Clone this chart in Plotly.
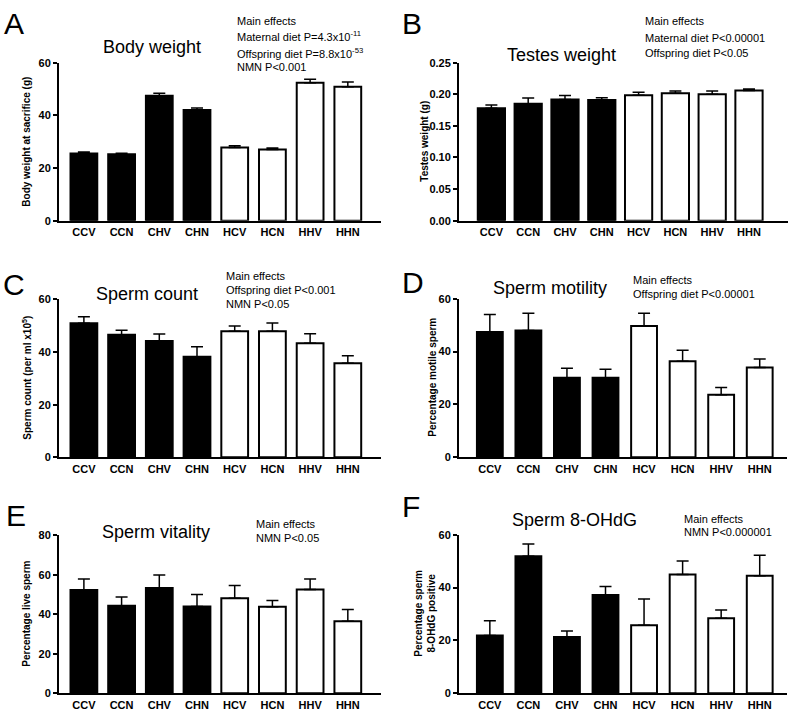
import plotly.graph_objects as go

W, H = 793, 721
groups = ["CCV", "CCN", "CHV", "CHN", "HCV", "HCN", "HHV", "HHN"]
fills = ["black"] * 4 + ["white"] * 4

body_weight = [25.5, 25.2, 47.5, 42.0, 27.8, 27.0, 52.4, 50.9]
body_weight_sem = [0.6, 0.4, 0.9, 0.8, 0.7, 0.6, 1.3, 1.8]
testes_weight = [0.178, 0.185, 0.192, 0.191, 0.1987, 0.2018, 0.200, 0.206]
testes_weight_sem = [0.005, 0.009, 0.006, 0.0035, 0.0045, 0.0036, 0.0054, 0.0025]
sperm_count = [50.9, 46.6, 44.2, 38.2, 47.9, 47.9, 43.3, 35.7]
sperm_count_sem = [2.5, 1.7, 2.6, 3.8, 2.0, 3.1, 3.6, 2.9]
sperm_motility = [47.4, 48.0, 30.1, 30.1, 49.7, 36.4, 23.7, 34.0]
sperm_motility_sem = [6.6, 6.5, 3.6, 3.2, 4.8, 4.1, 2.7, 3.2]
sperm_vitality = [52.3, 44.3, 53.3, 44.0, 48.1, 43.8, 52.6, 36.5]
sperm_vitality_sem = [5.6, 4.5, 6.6, 6.0, 6.5, 3.2, 5.3, 6.0]
sperm_ohdg = [21.9, 51.9, 21.3, 37.2, 25.8, 45.0, 28.4, 44.5]
sperm_ohdg_sem = [5.6, 4.6, 2.3, 3.2, 9.9, 5.1, 3.1, 7.7]

FONT = "Arial, 'Liberation Sans', sans-serif"


def px(x):
    return x / W


def py(y):
    return 1 - y / H


panels = [
    dict(vals=body_weight, err=body_weight_sem, x=(59, 381), y=(57.7, 218.3),
         rng=(-0.66, 7.88), yr=[0, 60], dt=20, fmt="", width=0.71),
    dict(vals=testes_weight, err=testes_weight_sem, x=(459, 788), y=(57.7, 218.3),
         rng=(-0.88, 8.06), yr=[0, 0.25], dt=0.05, fmt=".2f", width=0.74),
    dict(vals=sperm_count, err=sperm_count_sem, x=(59, 381), y=(298.3, 459),
         rng=(-0.66, 7.88), yr=[0, 60], dt=20, fmt="", width=0.71),
    dict(vals=sperm_motility, err=sperm_motility_sem, x=(459, 786.7), y=(297.7, 459),
         rng=(-0.8, 7.7), yr=[0, 60], dt=20, fmt="", width=0.67),
    dict(vals=sperm_vitality, err=sperm_vitality_sem, x=(59, 381), y=(538.3, 699),
         rng=(-0.66, 7.88), yr=[0, 80], dt=20, fmt="", width=0.71),
    dict(vals=sperm_ohdg, err=sperm_ohdg_sem, x=(459, 786.7), y=(537.7, 699),
         rng=(-0.8, 7.7), yr=[0, 60], dt=20, fmt="", width=0.67),
]

fig = go.Figure()
layout = {}
for i, p in enumerate(panels):
    n = "" if i == 0 else str(i + 1)
    fig.add_trace(go.Bar(
        x=groups, y=p["vals"], xaxis="x" + n, yaxis="y" + n,
        width=p["width"],
        marker=dict(color=fills, line=dict(color="black", width=2)),
        error_y=dict(type="data", symmetric=False, array=p["err"],
                     arrayminus=[0] * 8, color="black", thickness=1.5, width=6),
        showlegend=False, hoverinfo="skip",
    ))
    layout["xaxis" + n] = dict(
        domain=[px(p["x"][0]), px(p["x"][1])], anchor="y" + n,
        type="category", range=list(p["rng"]),
        showline=True, linecolor="black", linewidth=2, ticks="",
        showgrid=False, zeroline=False,
        tickfont=dict(family=FONT, size=11, color="black", weight="bold"),
    )
    layout["yaxis" + n] = dict(
        domain=[py(p["y"][1]), py(p["y"][0])], anchor="x" + n,
        range=p["yr"], dtick=p["dt"], tick0=0, tickformat=p["fmt"],
        showline=True, linecolor="black", linewidth=2,
        ticks="outside", ticklen=4, tickwidth=2, tickcolor="black",
        showgrid=False, zeroline=False,
        tickfont=dict(family=FONT, size=11, color="black", weight="bold"),
    )

ann = []


def text(x, y, s, size, xanchor="left", bold=False, angle=0):
    ann.append(dict(
        x=px(x), y=py(y), xref="paper", yref="paper", text=s, showarrow=False,
        xanchor=xanchor, yanchor="middle", textangle=angle,
        font=dict(family=FONT, size=size, color="black",
                  weight="bold" if bold else "normal"),
    ))


# panel letters
for lx, ly, L in [(2, 18, "A"), (400, 18, "B"), (1, 283, "C"), (400, 281, "D"),
                  (4, 518, "E"), (400, 509, "F")]:
    text(lx, ly, L, 30)

# panel titles
for cx, cy, t in [(152, 42, "Body weight"), (561, 50, "Testes weight"),
                  (147, 293, "Sperm count"), (550, 287, "Sperm motility"),
                  (156, 535, "Sperm vitality"), (574, 523, "Sperm 8-OHdG")]:
    text(cx, cy, t, 18, xanchor="center")

# main effects
effects = [
    (235, [(15, "Main effects"), (31, "Maternal diet P=4.3x10<sup>-11</sup>"),
           (48, "Offspring diet P=8.8x10<sup>-53</sup>"), (62, "NMN P<0.001")]),
    (643, [(15, "Main effects"), (33, "Maternal diet P<0.00001"),
           (48, "Offspring diet P<0.05")]),
    (224, [(275, "Main effects"), (289, "Offspring diet P<0.001"), (303, "NMN P<0.05")]),
    (631, [(279, "Main effects"), (293, "Offspring diet P<0.00001")]),
    (254, [(527, "Main effects"), (541, "NMN P<0.05")]),
    (682, [(522, "Main effects"), (535, "NMN P<0.000001")]),
]
for x0, lines in effects:
    for yy, s in lines:
        text(x0, yy, s, 11)

# y-axis titles
for tx, ty, s in [(27, 138, "Body weight at sacrifice (g)"),
                  (425, 138, "Testes weight (g)"),
                  (27, 378, "Sperm count (per ml x10<sup>5</sup>)"),
                  (433, 378, "Percentage motile sperm"),
                  (27, 618, "Percentage live sperm"),
                  (425, 618, "Percentage sperm<br>8-OHdG positive")]:
    text(tx, ty, s, 10, xanchor="center", bold=True, angle=-90)

fig.update_layout(
    width=W, height=H, margin=dict(l=0, r=0, t=0, b=0),
    paper_bgcolor="white", plot_bgcolor="white",
    annotations=ann, **layout,
)
fig.write_html("out.html", config={"displayModeBar": False},
               post_script="document.body.style.margin='0';")
